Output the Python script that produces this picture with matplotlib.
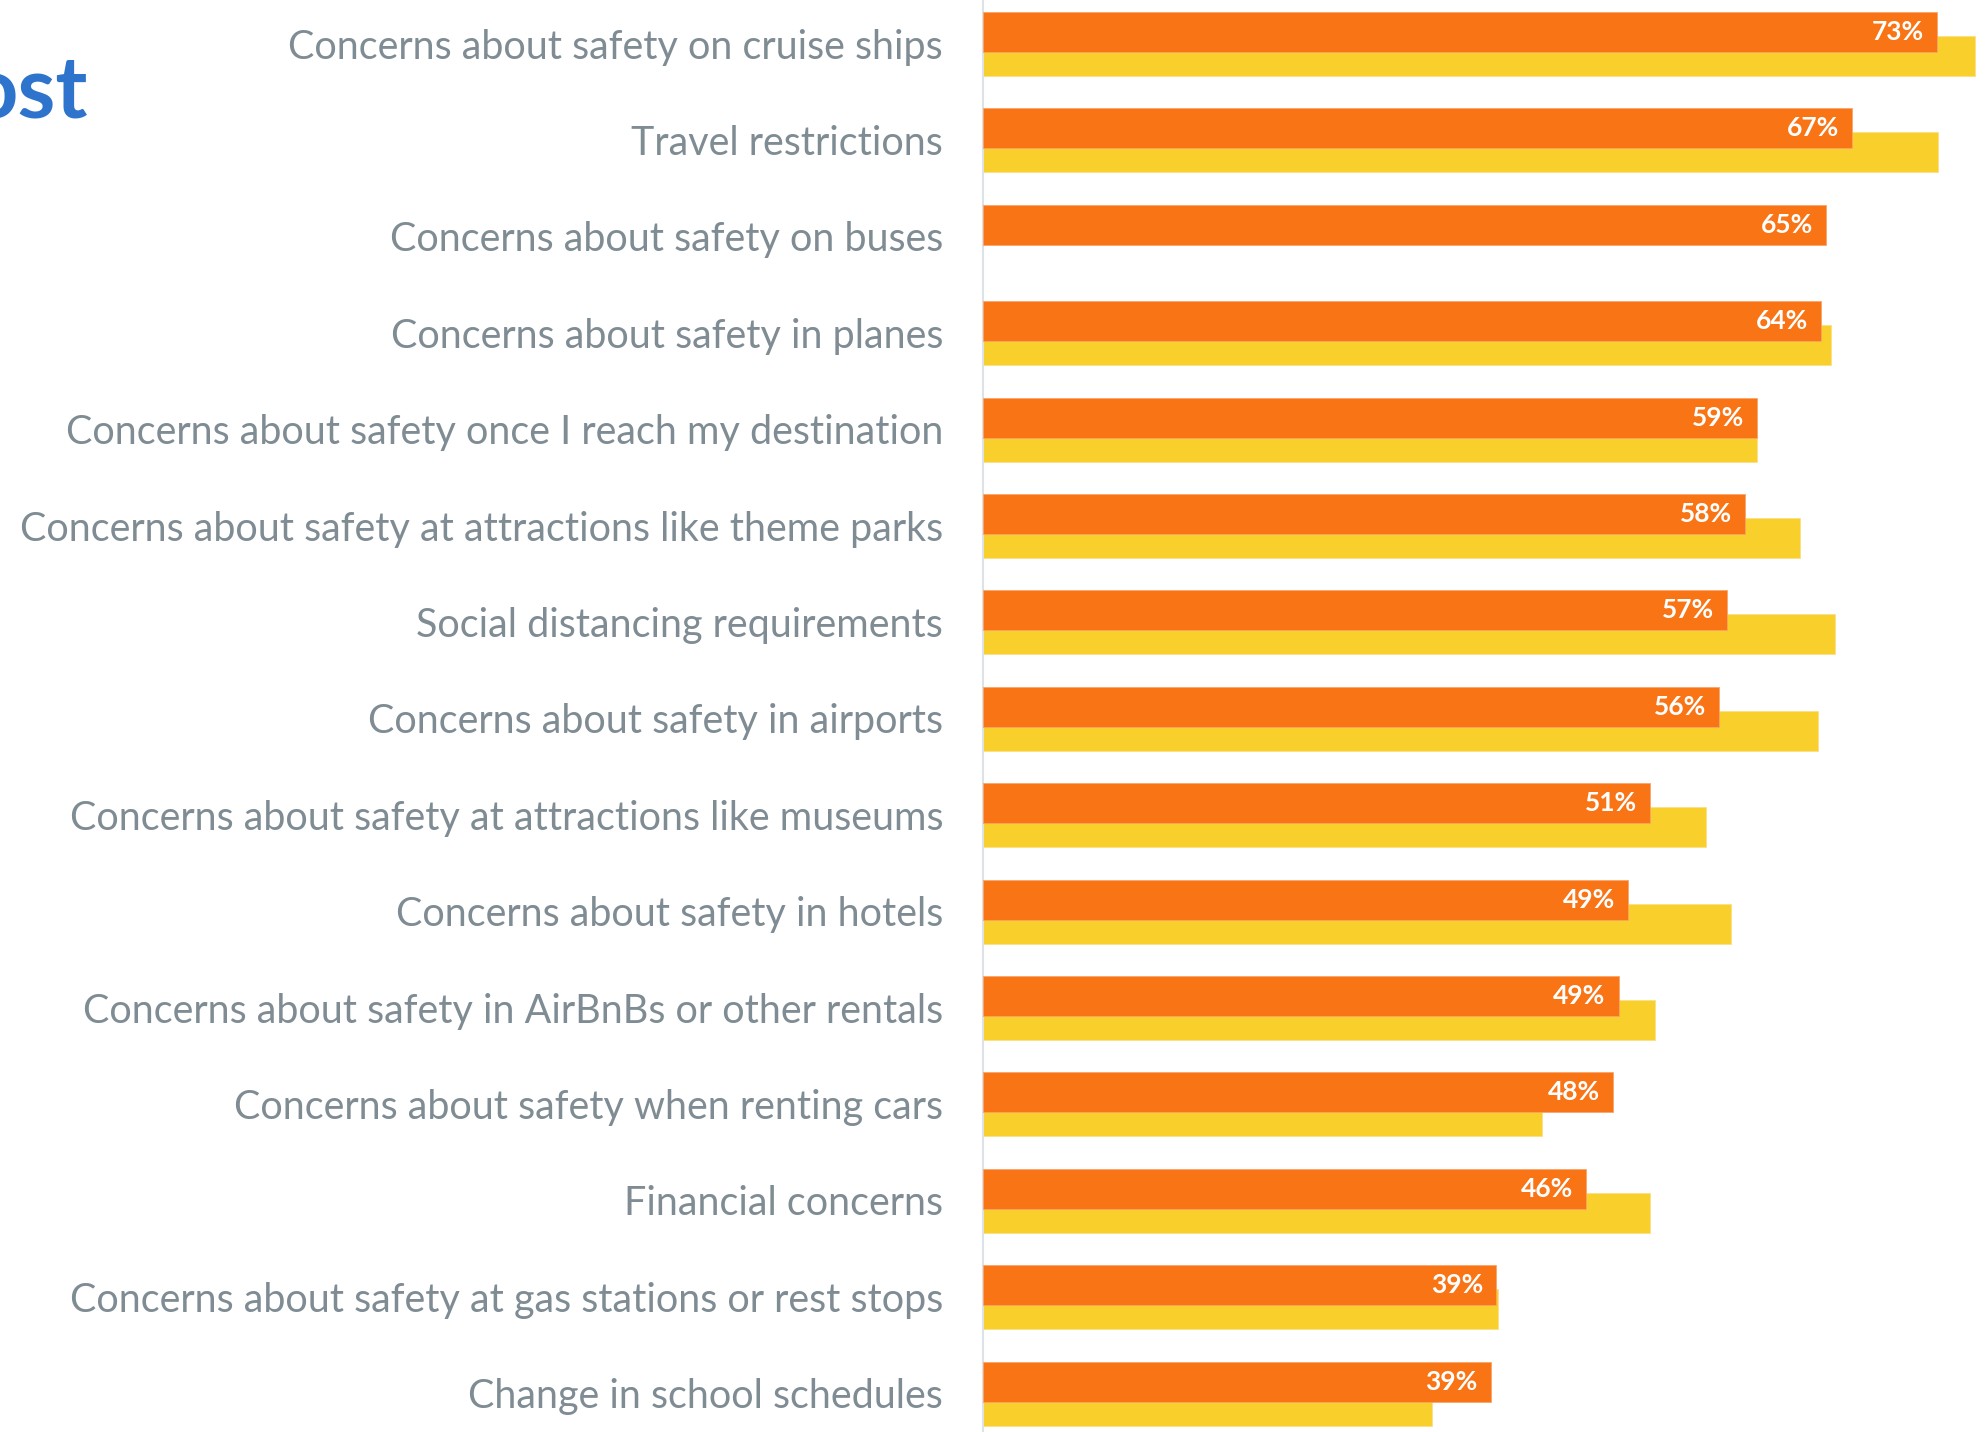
import numpy as np
import matplotlib
matplotlib.use("Agg")
import matplotlib.pyplot as plt

categories = [
    "Concerns about safety on cruise ships",
    "Travel restrictions",
    "Concerns about safety on buses",
    "Concerns about safety in planes",
    "Concerns about safety once I reach my destination",
    "Concerns about safety at attractions like theme parks",
    "Social distancing requirements",
    "Concerns about safety in airports",
    "Concerns about safety at attractions like museums",
    "Concerns about safety in hotels",
    "Concerns about safety in AirBnBs or other rentals",
    "Concerns about safety when renting cars",
    "Financial concerns",
    "Concerns about safety at gas stations or rest stops",
    "Change in school schedules",
]
current = [73.1, 66.6, 64.6, 64.2, 59.3, 58.4, 57.0, 56.4, 51.1, 49.4, 48.7, 48.3, 46.2, 39.3, 38.9]
previous = [76.0, 73.2, None, 65.0, 59.3, 62.6, 65.3, 64.0, 55.4, 57.3, 51.5, 42.8, 51.1, 39.5, 34.4]

ORANGE = "#F97415"
YELLOW = "#F9CF2B"
LABEL_GRAY = "#7F8C93"
TITLE_BLUE = "#2E74CC"

W, H = 1985, 1432
fig = plt.figure(figsize=(W / 100, H / 100), dpi=100)
ax_left = 983 / W
ax = fig.add_axes([ax_left, 0, 1 - ax_left, 1])

n = len(categories)
y = np.arange(n)
off = 0.125
bh = 0.415

py = [yy + off for yy, v in zip(y, previous) if v is not None]
pv = [v for v in previous if v is not None]
ax.barh(py, pv, height=bh, color=YELLOW, edgecolor="#FBE08A", linewidth=0.6, zorder=2)
ax.barh(y - off, current, height=bh, color=ORANGE, edgecolor="#F9A56A", linewidth=0.6, zorder=3)

px_per_unit = 13.05
ax.set_xlim(0, (W - 983) / px_per_unit)
ax.set_ylim(14 + (H - 1393.6) / 96.4, -44 / 96.4)

for yy, v in zip(y, current):
    ax.annotate(f"{v:.0f}%", xy=(v, yy - off), xytext=(-13, 0), textcoords="offset pixels",
                ha="right", va="center", color="white", fontsize=19, fontweight="bold",
                family="Lato", zorder=4)

for s in ["top", "right", "bottom"]:
    ax.spines[s].set_visible(False)
ax.spines["left"].set_color("#DCE2E5")
ax.spines["left"].set_linewidth(1.5)
ax.set_xticks([])
ax.set_yticks([])

# category labels
fig.canvas.draw()
renderer = fig.canvas.get_renderer()
probe = fig.text(0, 0, categories[5], fontsize=30, family="Lato")
wpx = probe.get_window_extent(renderer).width
probe.remove()
fs = 30 * 925 / wpx
for yy, c in zip(y, categories):
    ax.annotate(c, xy=(0, yy), xytext=(-40, -3), textcoords="offset pixels",
                ha="right", va="center", color=LABEL_GRAY, fontsize=fs, family="Lato",
                annotation_clip=False)

fig.text(87 / W, 1 - 118 / H, "ost", ha="right", va="baseline", color=TITLE_BLUE,
         fontsize=62, fontweight="bold", family="Lato")

fig.savefig("out.png", dpi=100)
